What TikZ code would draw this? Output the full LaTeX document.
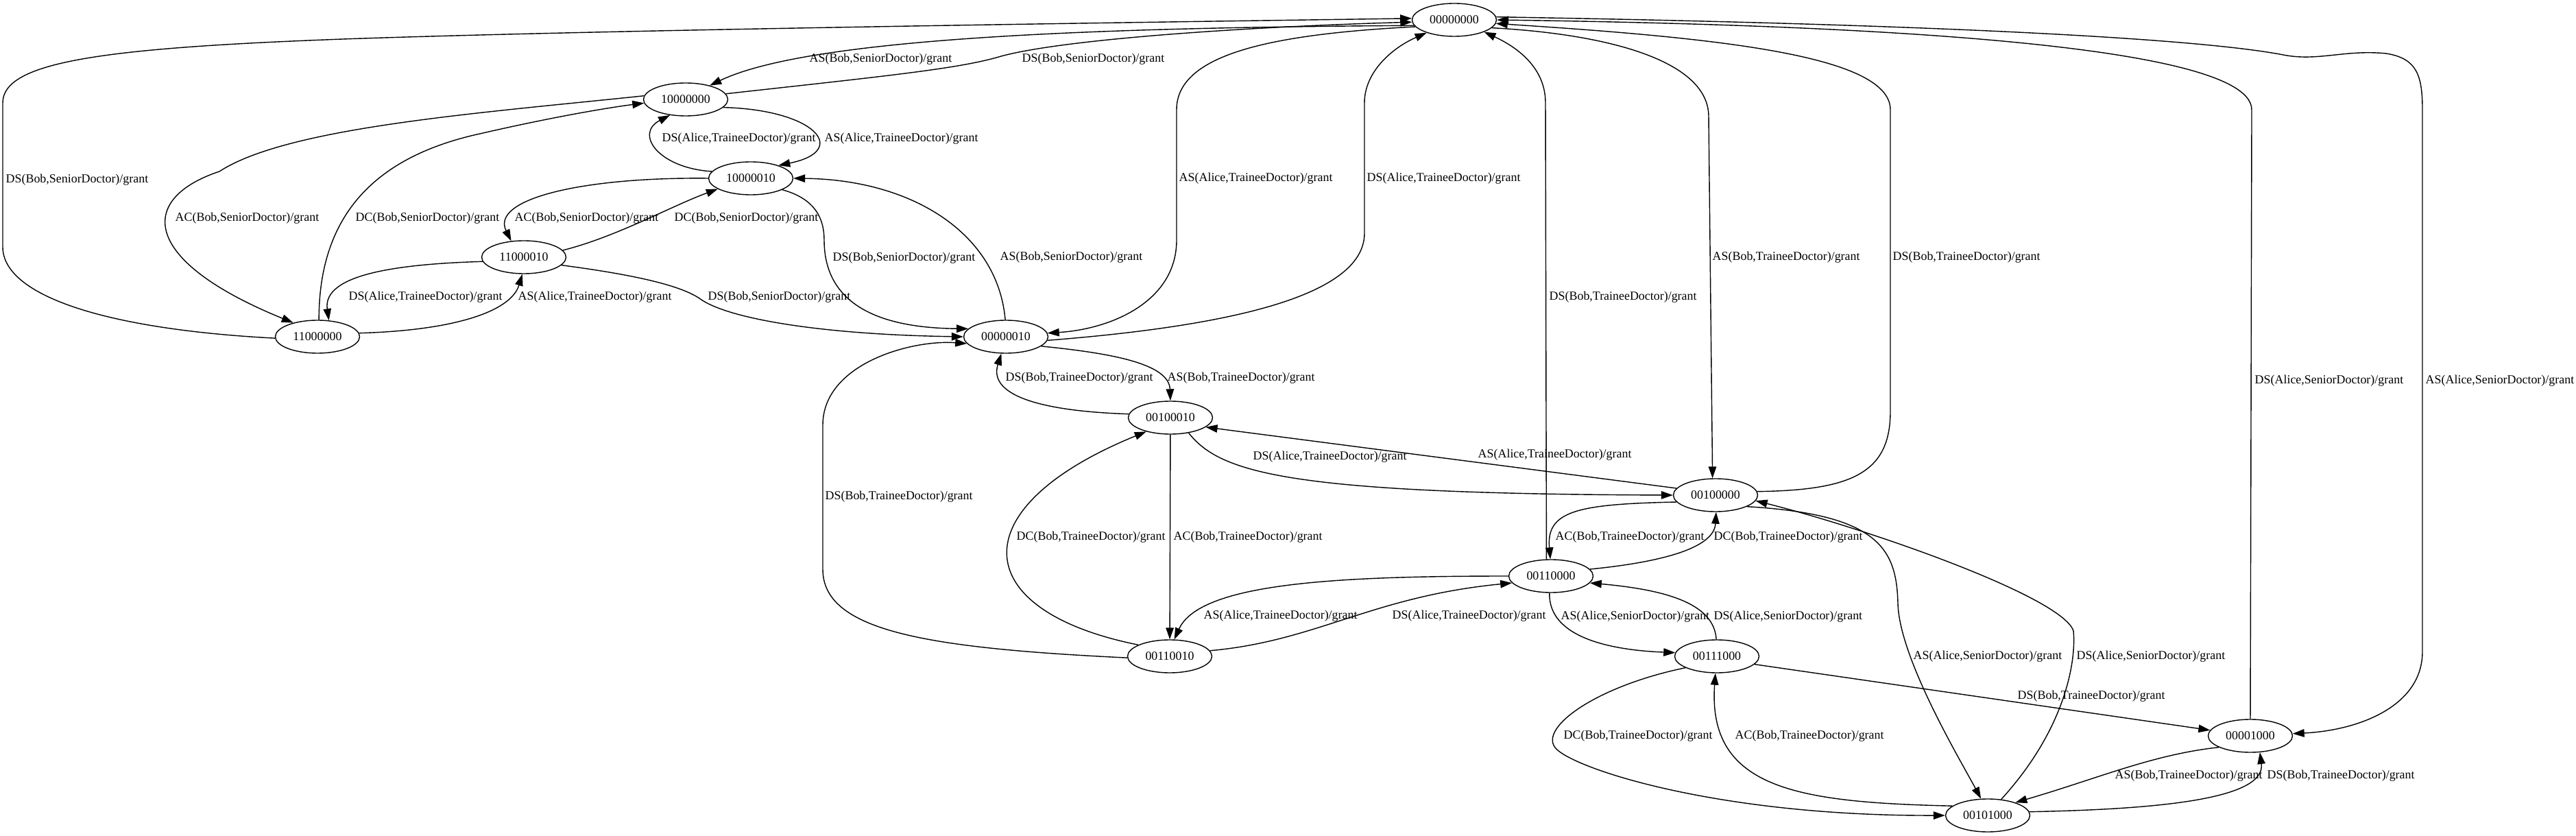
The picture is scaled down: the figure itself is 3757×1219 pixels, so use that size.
\documentclass[tikz,border=0pt]{standalone}
\usepackage{fontspec}
\setmainfont{Liberation Serif}
\usetikzlibrary{arrows.meta,shapes.geometric}

\begin{document}
\begin{tikzpicture}[
      x=0.02cm,y=-0.02cm,
      font=\fontsize{10.2pt}{12pt}\selectfont,
      state/.style={draw,ellipse,line width=0.8pt,minimum width=2.46cm,minimum height=0.96cm,inner sep=0pt},
      flow/.style={-{Triangle[length=0.34cm,width=0.23cm]},line width=0.8pt},
      lbl/.style={anchor=west,inner sep=0pt}
    ]
      \useasboundingbox (0,0) rectangle (3757,1219);
      \node[state] (s00000000) at (2121,29) {00000000};
      \node[state] (s10000000) at (1000,145) {10000000};
      \node[state] (s10000010) at (1095,260) {10000010};
      \node[state] (s11000010) at (764,375) {11000010};
      \node[state] (s11000000) at (463,491) {11000000};
      \node[state] (s00000010) at (1467,491) {00000010};
      \node[state] (s00100010) at (1707,609) {00100010};
      \node[state] (s00100000) at (2502,722) {00100000};
      \node[state] (s00110000) at (2262,840) {00110000};
      \node[state] (s00110010) at (1706,957) {00110010};
      \node[state] (s00111000) at (2504,957) {00111000};
      \node[state] (s00001000) at (3282,1073) {00001000};
      \node[state] (s00101000) at (2899,1189) {00101000};
      \draw[flow] (s00000000.188) .. controls (1600,40) and (1180,55) .. (s10000000.30) node[lbl] at (1180,86) {AS(Bob,SeniorDoctor)/grant};
      \draw[flow] (s10000000.8) .. controls (1300,110) and (1400,100) .. (1460,82) .. controls (1560,55) and (1850,38) .. (s00000000.183) node[lbl] at (1490,86) {DS(Bob,SeniorDoctor)/grant};
      \draw[flow] (s11000000.182) .. controls (150,480) and (4,430) .. (4,360) -- (4,150) .. controls (4,90) and (150,70) .. (500,57) .. controls (900,43) and (1700,32) .. (s00000000.178) node[lbl] at (8,262) {DS(Bob,SeniorDoctor)/grant};
      \draw[flow] (s10000000.-12) .. controls (1190,160) and (1240,220) .. (s10000010.25) node[lbl] at (1202,202) {AS(Alice,TraineeDoctor)/grant};
      \draw[flow] (s10000010.170) .. controls (960,245) and (925,195) .. (s10000000.-135) node[lbl] at (965,202) {DS(Alice,TraineeDoctor)/grant};
      \draw[flow] (s10000000.175) .. controls (700,165) and (420,185) .. (320,250) .. controls (200,290) and (205,380) .. (s11000000.150) node[lbl] at (255,318) {AC(Bob,SeniorDoctor)/grant};
      \draw[flow] (s11000000.85) .. controls (465,320) and (540,230) .. (700,195) .. controls (800,172) and (880,158) .. (s10000000.185) node[lbl] at (518,318) {DC(Bob,SeniorDoctor)/grant};
      \draw[flow] (s10000010.180) .. controls (850,258) and (715,290) .. (s11000010.128) node[lbl] at (750,318) {AC(Bob,SeniorDoctor)/grant};
      \draw[flow] (s11000010.10) .. controls (900,345) and (980,300) .. (s10000010.198) node[lbl] at (983,318) {DC(Bob,SeniorDoctor)/grant};
      \draw[flow] (s11000010.186) .. controls (580,385) and (470,400) .. (s11000000.55) node[lbl] at (508,433) {DS(Alice,TraineeDoctor)/grant};
      \draw[flow] (s11000000.5) .. controls (660,482) and (745,455) .. (s11000010.-95) node[lbl] at (755,433) {AS(Alice,TraineeDoctor)/grant};
      \draw[flow] (s11000010.-12) .. controls (920,400) and (990,415) .. (1020,435) .. controls (1060,465) and (1200,488) .. (s00000010.180) node[lbl] at (1032,433) {DS(Bob,SeniorDoctor)/grant};
      \draw[flow] (s10000010.-20) .. controls (1190,290) and (1202,320) .. (1202,350) .. controls (1202,430) and (1260,478) .. (s00000010.168) node[lbl] at (1214,376) {DS(Bob,SeniorDoctor)/grant};
      \draw[flow] (s00000010.92) .. controls (1455,340) and (1330,262) .. (s10000010.0) node[lbl] at (1458,375) {AS(Bob,SeniorDoctor)/grant};
      \draw[flow] (s00000000.190) .. controls (1850,50) and (1716,80) .. (1716,160) -- (1716,350) .. controls (1716,440) and (1620,480) .. (s00000010.5) node[lbl] at (1719,260) {AS(Alice,TraineeDoctor)/grant};
      \draw[flow] (s00000010.-5) .. controls (1800,475) and (1990,430) .. (1990,340) -- (1990,150) .. controls (1990,105) and (2030,70) .. (s00000000.-155) node[lbl] at (1993,260) {DS(Alice,TraineeDoctor)/grant};
      \draw[flow] (s00000010.-15) .. controls (1620,515) and (1705,530) .. (s00100010.90) node[lbl] at (1702,551) {AS(Bob,TraineeDoctor)/grant};
      \draw[flow] (s00100010.175) .. controls (1530,600) and (1440,580) .. (s00000010.-105) node[lbl] at (1466,551) {DS(Bob,TraineeDoctor)/grant};
      \draw[flow] (s00110010.182) .. controls (1350,945) and (1200,920) .. (1200,830) -- (1200,620) .. controls (1200,530) and (1330,495) .. (s00000010.190) node[lbl] at (1203,724) {DS(Bob,TraineeDoctor)/grant};
      \draw[flow] (s00100010) -- (s00110010) node[lbl] at (1711,783) {AC(Bob,TraineeDoctor)/grant};
      \draw[flow] (s00110010.160) .. controls (1410,890) and (1400,740) .. (s00100010.-150) node[lbl] at (1482,783) {DC(Bob,TraineeDoctor)/grant};
      \draw[flow] (s00100010.-40) .. controls (1780,690) and (1880,720) .. (s00100000.180) node[lbl] at (1827,666) {DS(Alice,TraineeDoctor)/grant};
      \draw[flow] (s00100000.170) -- (s00100010.-15) node[lbl] at (2155,663) {AS(Alice,TraineeDoctor)/grant};
      \draw[flow] (s00000000.-12) .. controls (2350,50) and (2492,90) .. (2492,170) -- (s00100000.100) node[lbl] at (2497,375) {AS(Bob,TraineeDoctor)/grant};
      \draw[flow] (s00100000.5) .. controls (2700,715) and (2757,690) .. (2757,600) -- (2757,160) .. controls (2757,80) and (2500,55) .. (s00000000.-5) node[lbl] at (2760,375) {DS(Bob,TraineeDoctor)/grant};
      \draw[flow] (s00110000.105) -- (2254,150) .. controls (2254,100) and (2215,70) .. (s00000000.-22) node[lbl] at (2259,433) {DS(Bob,TraineeDoctor)/grant};
      \draw[flow] (s00100000.-170) .. controls (2300,735) and (2255,745) .. (s00110000.92) node[lbl] at (2268,783) {AC(Bob,TraineeDoctor)/grant};
      \draw[flow] (s00110000.10) .. controls (2420,820) and (2500,800) .. (s00100000.-88) node[lbl] at (2499,783) {DC(Bob,TraineeDoctor)/grant};
      \draw[flow] (s00110000.180) .. controls (1950,840) and (1750,850) .. (s00110010.75) node[lbl] at (1755,898) {AS(Alice,TraineeDoctor)/grant};
      \draw[flow] (s00110010.8) .. controls (1920,935) and (2000,870) .. (s00110000.-170) node[lbl] at (2030,898) {DS(Alice,TraineeDoctor)/grant};
      \draw[flow] (s00110000.-95) .. controls (2258,930) and (2350,948) .. (s00111000.175) node[lbl] at (2276,899) {AS(Alice,SeniorDoctor)/grant};
      \draw[flow] (s00111000.92) .. controls (2500,880) and (2430,860) .. (s00110000.-10) node[lbl] at (2499,899) {DS(Alice,SeniorDoctor)/grant};
      \draw[flow] (s00111000.-12) -- (s00001000.172) node[lbl] at (2942,1015) {DS(Bob,TraineeDoctor)/grant};
      \draw[flow] (s00111000.-160) .. controls (2330,1000) and (2245,1060) .. (2268,1090) .. controls (2290,1119) and (2500,1190) .. (s00101000.180) node[lbl] at (2280,1073) {DC(Bob,TraineeDoctor)/grant};
      \draw[flow] (s00101000.165) .. controls (2620,1170) and (2490,1150) .. (s00111000.-95) node[lbl] at (2530,1073) {AC(Bob,TraineeDoctor)/grant};
      \draw[flow] (s00100000.-20) .. controls (2740,750) and (2766,800) .. (2768,880) .. controls (2770,960) and (2860,1110) .. (s00101000.112) node[lbl] at (2790,957) {AS(Alice,SeniorDoctor)/grant};
      \draw[flow] (s00101000.50) .. controls (3015,1060) and (3028,960) .. (3024,920) .. controls (3008,870) and (2720,770) .. (s00100000.-8) node[lbl] at (3028,957) {DS(Alice,SeniorDoctor)/grant};
      \draw[flow] (s00001000.90) -- (3284,160) .. controls (3284,55) and (2600,35) .. (s00000000.0) node[lbl] at (3288,555) {DS(Alice,SeniorDoctor)/grant};
      \draw[flow] (s00000000.4) .. controls (2800,35) and (3200,55) .. (3330,80) .. controls (3380,90) and (3420,72) .. (3480,78) .. controls (3525,85) and (3533,110) .. (3533,160) -- (3533,950) .. controls (3533,1030) and (3440,1065) .. (s00001000.3) node[lbl] at (3537,555) {AS(Alice,SeniorDoctor)/grant};
      \draw[flow] (s00001000.-160) .. controls (3140,1100) and (3060,1135) .. (s00101000.25) node[lbl] at (3084,1131) {AS(Bob,TraineeDoctor)/grant};
      \draw[flow] (s00101000.5) .. controls (3150,1180) and (3305,1165) .. (s00001000.-60) node[lbl] at (3306,1131) {DS(Bob,TraineeDoctor)/grant};
    \end{tikzpicture}
\end{document}
